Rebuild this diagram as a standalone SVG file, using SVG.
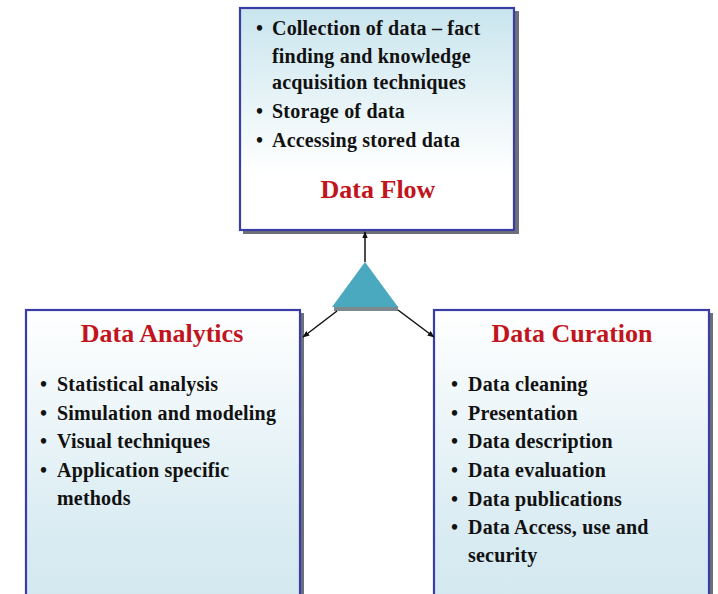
<svg xmlns="http://www.w3.org/2000/svg" width="718" height="594" viewBox="0 0 718 594">
<defs>
<linearGradient id="gTop" x1="0" y1="0" x2="0" y2="1">
<stop offset="0" stop-color="#c9e5ee"/>
<stop offset="0.75" stop-color="#ffffff"/>
<stop offset="1" stop-color="#ffffff"/>
</linearGradient>
<linearGradient id="gBot" x1="0" y1="0" x2="0" y2="1">
<stop offset="0" stop-color="#ffffff"/>
<stop offset="0.7" stop-color="#dcedf3"/>
<stop offset="1" stop-color="#d3e8f0"/>
</linearGradient>
<marker id="ah" viewBox="0 0 10 10" refX="9" refY="5" markerWidth="7" markerHeight="7" orient="auto" markerUnits="userSpaceOnUse">
<path d="M0,1 L10,5 L0,9 z" fill="#111"/>
</marker>
</defs>
<style>
.box{stroke:#3a3da6;stroke-width:2.2}
.shadow{fill:#6d7078}
.t{font-family:"Liberation Serif","Times New Roman",serif;font-weight:bold;font-size:20px;letter-spacing:0.2px;fill:#111}
.h{font-family:"Liberation Serif","Times New Roman",serif;font-weight:bold;font-size:26px;fill:#c1141c;text-anchor:middle}
.conn{stroke:#111;stroke-width:1.5;fill:none}
</style>
<rect width="718" height="594" fill="#ffffff"/>

<g id="data-flow">
<rect class="shadow" x="243" y="11" width="276" height="223"/>
<rect class="box" x="240" y="8" width="274" height="222" fill="url(#gTop)"/>
<g class="t">
<text x="256" y="35">•</text><text x="272" y="35">Collection of data – fact</text>
<text x="272" y="63">finding and knowledge</text>
<text x="272" y="89">acquisition techniques</text>
<text x="256" y="118">•</text><text x="272" y="118">Storage of data</text>
<text x="256" y="147">•</text><text x="272" y="147">Accessing stored data</text>
</g>
<text class="h" x="378" y="198">Data Flow</text>
</g>

<g id="hub">
<rect x="334" y="306" width="64" height="5" fill="#7c8a90"/>
<polygon points="365,262 332,307 398,307" fill="#4aa8bf"/>
</g>

<g id="data-analytics">
<rect class="shadow" x="29" y="313" width="275" height="285"/>
<rect class="box" x="26" y="310" width="274" height="290" fill="url(#gBot)"/>
<text class="h" x="162" y="342">Data Analytics</text>
<g class="t">
<text x="40" y="391">•</text><text x="57" y="391">Statistical analysis</text>
<text x="40" y="420">•</text><text x="57" y="420">Simulation and modeling</text>
<text x="40" y="448">•</text><text x="57" y="448">Visual techniques</text>
<text x="40" y="477">•</text><text x="57" y="477">Application specific</text>
<text x="57" y="505">methods</text>
</g>
</g>

<g id="data-curation">
<rect class="shadow" x="437" y="313" width="276" height="285"/>
<rect class="box" x="434" y="310" width="275" height="290" fill="url(#gBot)"/>
<text class="h" x="572" y="342">Data Curation</text>
<g class="t">
<text x="451" y="391">•</text><text x="468" y="391">Data cleaning</text>
<text x="451" y="420">•</text><text x="468" y="420">Presentation</text>
<text x="451" y="448">•</text><text x="468" y="448">Data description</text>
<text x="451" y="477">•</text><text x="468" y="477">Data evaluation</text>
<text x="451" y="506">•</text><text x="468" y="506">Data publications</text>
<text x="451" y="534">•</text><text x="468" y="534">Data Access, use and</text>
<text x="468" y="562">security</text>
</g>
</g>

<g id="connectors">
<line class="conn" x1="365" y1="262" x2="365" y2="232" marker-end="url(#ah)"/>
<line class="conn" x1="337" y1="311" x2="303" y2="337" marker-end="url(#ah)"/>
<line class="conn" x1="398" y1="310" x2="434" y2="337" marker-end="url(#ah)"/>
</g>
</svg>
